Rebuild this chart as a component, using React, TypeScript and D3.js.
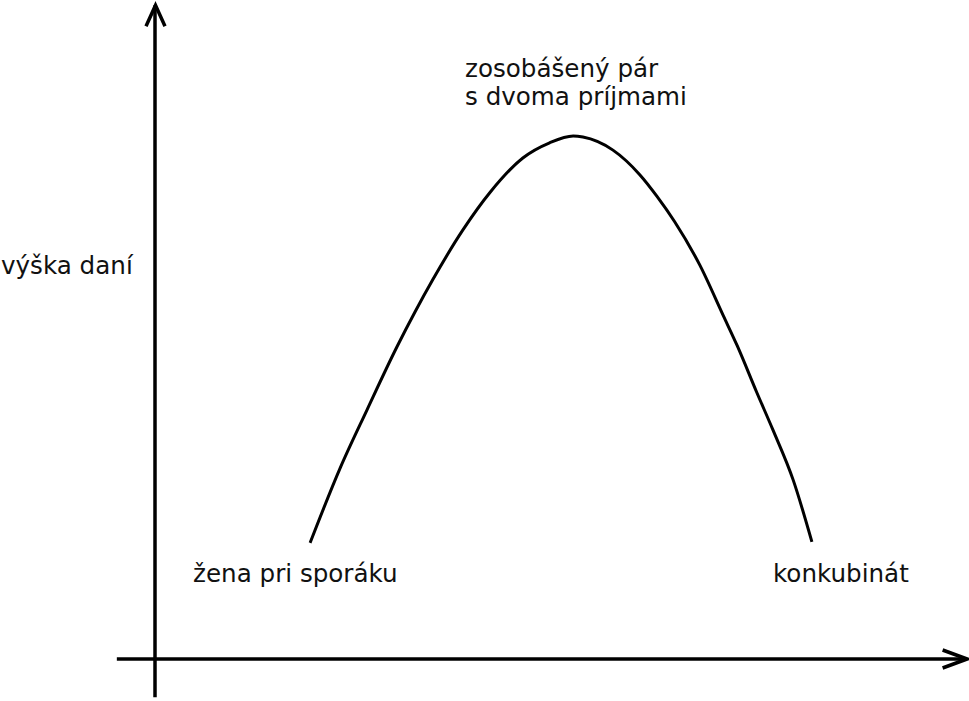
import * as d3 from "d3";
import React, { useEffect, useRef } from "react";

// curve: x = position along the axis (0..100), y = tax height (peak = 100)
const curveX = [19.1, 22.8, 26.1, 29.8, 32.0, 34.2, 37.9, 41.3, 45.3, 48.6, 51.5, 52.7, 56.4, 59.7, 61.8, 64.0, 67.1, 70.0, 71.7, 74.1, 76.1, 78.6, 80.9];
const curveY = [22.2, 36.5, 47.6, 59.7, 66.3, 72.5, 82.0, 89.3, 95.8, 98.7, 100, 99.8, 97.3, 92.6, 88.5, 83.6, 75.3, 65.6, 59.9, 51.0, 43.8, 34.2, 22.4];

const peakLabel = ["zosobášený pár", "s dvoma príjmami"];
const leftLabel = "žena pri sporáku";
const rightLabel = "konkubinát";
const yAxisLabel = "výška daní";

const W = 969;
const H = 701;

const App: React.FC = () => {
  const svgRef = useRef<SVGSVGElement>(null);

  useEffect(() => {
    const svg = d3.select(svgRef.current);
    svg.selectAll("*").remove();

    const x = d3.scaleLinear().domain([0, 100]).range([155, 967]);
    const y = d3.scaleLinear().domain([0, 100]).range([659, 136]);

    const font = "'DejaVu Sans', sans-serif";

    // axes
    const axisG = svg.append("g").attr("stroke", "#000").attr("stroke-width", 3.5).attr("fill", "none");
    axisG
      .append("line")
      .attr("x1", x(-4.7))
      .attr("x2", x(100))
      .attr("y1", y(0))
      .attr("y2", y(0));
    axisG
      .append("line")
      .attr("x1", x(0))
      .attr("x2", x(0))
      .attr("y1", y(-7.3))
      .attr("y2", y(125));

    // arrow heads
    axisG
      .append("path")
      .attr("stroke-linejoin", "miter")
      .attr("d", `M${x(97)},${y(0) - 9}L${x(100)},${y(0)}L${x(97)},${y(0) + 9}`);
    axisG
      .append("path")
      .attr("stroke-linejoin", "miter")
      .attr("d", `M${x(0) - 9},${y(121)}L${x(0) + 0.5},${y(125)}L${x(0) + 10},${y(121)}`);

    // curve
    const pts = curveX.map((cx, i) => [cx, curveY[i]] as [number, number]);
    const line = d3
      .line<[number, number]>()
      .x((d) => x(d[0]))
      .y((d) => y(d[1]))
      .curve(d3.curveMonotoneX);
    svg
      .append("path")
      .datum(pts)
      .attr("d", line)
      .attr("fill", "none")
      .attr("stroke", "#000")
      .attr("stroke-width", 3);

    // labels
    const txt = svg.append("g").attr("font-family", font).attr("font-size", 24.6).attr("fill", "#111");
    peakLabel.forEach((t, i) => {
      txt.append("text").attr("x", 465).attr("y", 77 + i * 28).text(t);
    });
    txt.append("text").attr("x", 1).attr("y", 274).text(yAxisLabel);
    txt.append("text").attr("x", 193).attr("y", 582).text(leftLabel);
    txt.append("text").attr("x", 773).attr("y", 582).text(rightLabel);
  }, []);

  return (
    <svg
      ref={svgRef}
      width={W}
      height={H}
      style={{ position: "absolute", left: 0, top: 0, background: "#fff" }}
    />
  );
};

export default App;
